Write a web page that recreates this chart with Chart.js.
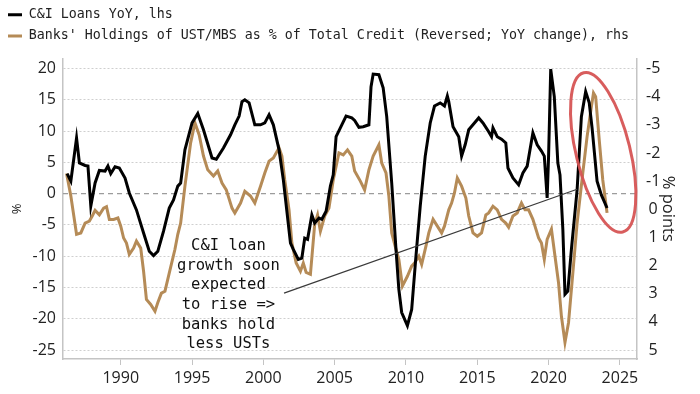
<!DOCTYPE html>
<html>
<head>
<meta charset="utf-8">
<script src="https://cdn.jsdelivr.net/npm/chart.js@4.4.1/dist/chart.umd.min.js"></script>
<style>
  html, body { margin: 0; padding: 0; background: #fff; }
  #wrap { width: 700px; height: 394px; }
</style>
</head>
<body>
<div id="wrap"><canvas id="chart"></canvas></div>
<script>
// C&I loans YoY (%, lhs)
const loanYears = [1986.24, 1986.5, 1986.9, 1987.1, 1987.5, 1987.7, 1987.9, 1988.2, 1988.5, 1988.9, 1989.1, 1989.3, 1989.6, 1989.9,
  1990.3, 1990.6, 1991.1, 1991.6, 1992.0, 1992.3, 1992.6, 1993.0, 1993.4, 1993.7, 1994.0, 1994.2, 1994.5, 1995.0, 1995.4, 1995.8,
  1996.4, 1996.7, 1997.2, 1997.7, 1998.0, 1998.3, 1998.5, 1998.7, 1999.0, 1999.4, 1999.8, 2000.1, 2000.4, 2000.7, 2001.1, 2001.4,
  2001.9, 2002.1, 2002.45, 2002.7, 2002.9, 2003.1, 2003.4, 2003.6, 2003.9, 2004.1, 2004.4, 2004.7, 2004.9, 2005.1, 2005.5, 2005.8,
  2006.2, 2006.4, 2006.7, 2007.0, 2007.4, 2007.55, 2007.7, 2008.1, 2008.4, 2008.65, 2009.0, 2009.3, 2009.5, 2009.7, 2010.1, 2010.4,
  2010.7, 2011.0, 2011.35, 2011.7, 2012.0, 2012.4, 2012.7, 2012.9, 2013.0, 2013.3, 2013.7, 2013.9, 2014.15, 2014.4, 2014.8, 2015.1,
  2015.4, 2015.8, 2016.0, 2016.1, 2016.4, 2016.7, 2017.0, 2017.15, 2017.5, 2017.9, 2018.2, 2018.5, 2018.9, 2019.2, 2019.5, 2019.7,
  2019.9, 2020.0, 2020.15, 2020.4, 2020.65, 2020.8, 2021.0, 2021.15, 2021.35, 2021.6, 2022.0, 2022.3, 2022.6, 2022.85, 2023.05,
  2023.4, 2023.7, 2024.1];
const loanValues = [3.2, 2.0, 8.9, 4.9, 4.5, 4.4, -2.0, 1.7, 3.7, 3.6, 4.4, 3.2, 4.3, 4.1,
  2.5, 0.1, -2.6, -6.3, -9.2, -9.9, -9.2, -6.0, -2.3, -1.0, 1.2, 1.7, 7.0, 11.3, 12.8, 10.2,
  5.7, 5.5, 7.3, 9.4, 11.0, 12.4, 14.7, 15.0, 14.5, 11.0, 11.0, 11.3, 12.6, 11.0, 7.0, 2.2,
  -7.9, -8.9, -10.5, -10.3, -7.1, -7.3, -3.4, -4.7, -3.9, -4.1, -2.8, 1.2, 3.0, 9.1, 11.0, 12.4,
  12.1, 11.7, 10.6, 10.7, 11.0, 17.1, 19.1, 19.0, 16.9, 12.3, 1.7, -8.9, -15.3, -19.0, -21.1, -18.5,
  -10.0, -2.0, 6.0, 11.3, 14.0, 14.5, 14.0, 15.6, 14.7, 10.7, 9.1, 6.0, 7.8, 10.2, 11.3, 12.1,
  11.3, 9.9, 9.1, 10.5, 9.1, 8.7, 8.1, 4.1, 2.5, 1.4, 3.3, 4.4, 9.7, 7.8, 6.8, 6.0,
  -0.7, 6.0, 19.9, 15.5, 4.9, 3.0, -5.7, -16.1, -15.6, -8.9, 0.6, 12.3, 16.3, 14.5, 10.5,
  2.0, -0.2, -2.3];

// Banks' UST/MBS holdings as % of total credit, YoY change, reversed (pp, rhs)
const holdYears = [1986.2, 1986.5, 1986.9, 1987.2, 1987.5, 1987.8, 1988.0, 1988.2, 1988.5, 1988.8, 1989.0, 1989.2, 1989.5, 1989.8,
  1990.0, 1990.2, 1990.4, 1990.6, 1990.9, 1991.1, 1991.4, 1991.6, 1991.8, 1992.1, 1992.4, 1992.6, 1992.85, 1993.1, 1993.4, 1993.8,
  1994.0, 1994.2, 1994.5, 1994.9, 1995.2, 1995.5, 1995.8, 1996.1, 1996.5, 1996.8, 1997.1, 1997.4, 1997.8, 1998.0, 1998.4, 1998.7,
  1999.1, 1999.4, 1999.8, 2000.1, 2000.4, 2000.7, 2001.1, 2001.3, 2001.5, 2001.8, 2002.0, 2002.3, 2002.6, 2002.8, 2003.0, 2003.3,
  2003.6, 2003.8, 2004.0, 2004.3, 2004.6, 2004.9, 2005.3, 2005.6, 2005.9, 2006.2, 2006.4, 2006.8, 2007.1, 2007.4, 2007.7, 2008.1,
  2008.3, 2008.6, 2008.8, 2009.0, 2009.3, 2009.5, 2009.75, 2010.1, 2010.4, 2010.6, 2010.9, 2011.1, 2011.4, 2011.6, 2011.9, 2012.2,
  2012.5, 2012.7, 2013.0, 2013.2, 2013.4, 2013.6, 2013.9, 2014.2, 2014.4, 2014.7, 2015.0, 2015.3, 2015.6, 2015.8, 2016.1, 2016.4,
  2016.7, 2017.0, 2017.2, 2017.5, 2017.8, 2018.1, 2018.35, 2018.6, 2018.9, 2019.3, 2019.5, 2019.7, 2019.9, 2020.2, 2020.45, 2020.7,
  2020.9, 2021.15, 2021.4, 2021.7, 2022.0, 2022.4, 2022.7, 2023.0, 2023.15, 2023.3, 2023.55, 2023.8, 2024.1];
const holdValues = [-1.27, -0.47, 0.89, 0.84, 0.49, 0.42, 0.24, 0.04, 0.20, -0.04, -0.09, 0.36, 0.36, 0.31,
  0.60, 1.02, 1.20, 1.60, 1.38, 1.13, 1.38, 2.20, 3.20, 3.38, 3.62, 3.31, 2.98, 2.91, 2.27, 1.42,
  0.89, 0.49, -0.82, -2.36, -3.07, -2.64, -1.89, -1.40, -1.18, -1.36, -0.93, -0.69, -0.04, 0.13, -0.22, -0.64,
  -0.47, -0.22, -0.82, -1.29, -1.71, -1.82, -2.18, -1.89, -1.04, 0.02, 1.20, 1.91, 2.20, 1.91, 2.24, 2.31,
  0.53, 0.20, 0.78, 0.24, -0.04, -1.04, -2.00, -1.93, -2.11, -1.89, -1.36, -1.00, -0.69, -1.40, -1.89, -2.29,
  -1.64, -1.29, -0.47, 0.84, 1.42, 1.78, 2.73, 2.38, 2.02, 1.91, 1.67, 1.96, 1.31, 0.84, 0.36, 0.60,
  0.84, 0.60, 0.02, -0.22, -0.58, -1.11, -0.82, -0.40, 0.24, 0.84, 0.96, 0.84, 0.20, 0.13, -0.11, 0.02,
  0.36, 0.49, 0.64, 0.24, 0.13, -0.22, 0.02, 0.02, 0.36, 1.02, 1.20, 1.78, 1.07, 0.71, 1.67, 2.62,
  3.80, 4.73, 4.02, 2.27, 0.49, -1.29, -2.58, -3.64, -4.13, -4.00, -2.47, -1.04, 0.13];

const yearTicks = [1990, 1995, 2000, 2005, 2010, 2015, 2020, 2025];
const lhsTicks = [-25, -20, -15, -10, -5, 0, 5, 10, 15, 20];
const rhsTicks = [-5, -4, -3, -2, -1, 0, 1, 2, 3, 4, 5];

const calloutLines = ['C&I loan', 'growth soon', 'expected', 'to rise =>', 'banks hold', 'less USTs'];
const calloutAt = [1997.55, -8.4];          // year, lhs value of first line
const pointerFrom = [2001.45, -15.9];
const pointerTo = [2022.0, 0.7];
const circleAt = [2023.83, 6.6];

const toPoints = (xs, ys) => xs.map((x, i) => ({x: x, y: ys[i]}));

// zero line, pointer line, callout text and the red circle
const extras = {
  id: 'extras',
  afterInit(chart) {
    // a little room between legend and plot
    const lg = chart.legend;
    if (lg) {
      const fit = lg.fit.bind(lg);
      lg.fit = function () { fit(); this.height += 6; };
    }
  },
  beforeDatasetsDraw(chart) {
    const {ctx, chartArea, scales} = chart;
    const y0 = scales.y.getPixelForValue(0);
    ctx.save();
    ctx.strokeStyle = '#9c9c9c';
    ctx.lineWidth = 1.2;
    ctx.setLineDash([5, 4]);
    ctx.beginPath();
    ctx.moveTo(chartArea.left, y0);
    ctx.lineTo(chartArea.right, y0);
    ctx.stroke();
    ctx.restore();
  },
  afterDatasetsDraw(chart) {
    const {ctx, scales: {x, y}} = chart;
    ctx.save();
    ctx.strokeStyle = '#3a3a3a';
    ctx.lineWidth = 1.2;
    ctx.beginPath();
    ctx.moveTo(x.getPixelForValue(pointerFrom[0]), y.getPixelForValue(pointerFrom[1]));
    ctx.lineTo(x.getPixelForValue(pointerTo[0]), y.getPixelForValue(pointerTo[1]));
    ctx.stroke();

    ctx.fillStyle = '#111';
    ctx.font = '15.5px "DejaVu Sans Mono"';
    ctx.textAlign = 'center';
    ctx.textBaseline = 'middle';
    const cx = x.getPixelForValue(calloutAt[0]);
    let cy = y.getPixelForValue(calloutAt[1]);
    calloutLines.forEach(line => {
      ctx.fillText(line, cx, cy);
      cy += 19.6;
    });

    ctx.strokeStyle = 'rgba(214, 84, 84, 0.95)';
    ctx.lineWidth = 3;
    ctx.beginPath();
    ctx.ellipse(x.getPixelForValue(circleAt[0]), y.getPixelForValue(circleAt[1]), 27, 82, -0.24, 0, Math.PI * 2);
    ctx.stroke();
    ctx.restore();
  }
};

const tickFont = {family: 'Open Sans', size: 16};

new Chart(document.getElementById('chart'), {
  type: 'line',
  data: {
    datasets: [{
      label: 'C&I Loans YoY, lhs',
      data: toPoints(loanYears, loanValues),
      borderColor: '#000',
      backgroundColor: '#000',
      borderWidth: 3,
      pointRadius: 0,
      tension: 0,
      yAxisID: 'y'
    }, {
      label: "Banks' Holdings of UST/MBS as % of Total Credit (Reversed; YoY change), rhs",
      data: toPoints(holdYears, holdValues),
      borderColor: '#b58b57',
      backgroundColor: '#b58b57',
      borderWidth: 3,
      pointRadius: 0,
      tension: 0,
      yAxisID: 'y2'
    }]
  },
  options: {
    responsive: true,
    maintainAspectRatio: false,
    animation: false,
    layout: {padding: 0},
    plugins: {
      legend: {
        position: 'top',
        align: 'start',
        labels: {
          usePointStyle: true,
          pointStyle: 'line',
          pointStyleWidth: 14,
          boxHeight: 13,
          padding: 8,
          color: '#222',
          font: {family: 'DejaVu Sans Mono', size: 13.3}
        }
      },
      tooltip: {enabled: false}
    },
    scales: {
      x: {
        type: 'linear',
        min: 1985.95,
        max: 2026.2,
        afterBuildTicks: s => { s.ticks = yearTicks.map(v => ({value: v})); },
        afterFit: s => { s.height = 35; },
        grid: {drawOnChartArea: false, drawTicks: true, tickLength: 6, color: '#c4c4c4'},
        border: {color: '#c4c4c4', width: 1.5},
        ticks: {font: tickFont, color: '#222', padding: 4, maxRotation: 0, autoSkip: false, callback: v => String(v)}
      },
      y: {
        position: 'left',
        min: -26.43,
        max: 21.58,
        afterBuildTicks: s => { s.ticks = lhsTicks.map(v => ({value: v})); },
        afterFit: s => { s.width = 63; },
        grid: {drawTicks: false, color: c => (c.tick && c.tick.value === 0) ? 'rgba(0,0,0,0)' : '#cfcfcf'},
        border: {color: '#c4c4c4', width: 1.5, dash: [2, 2]},
        ticks: {font: tickFont, color: '#222', padding: 7},
        title: {display: true, text: '%', color: '#222', font: {family: 'Open Sans', size: 13}, padding: {top: 9, bottom: 0}}
      },
      y2: {
        position: 'right',
        reverse: true,
        min: -5.351,
        max: 5.318,
        afterBuildTicks: s => { s.ticks = rhsTicks.map(v => ({value: v})); },
        afterFit: s => { s.width = 63; },
        grid: {display: false, drawTicks: false},
        border: {color: '#c4c4c4', width: 1.5},
        ticks: {font: tickFont, color: '#222', padding: 9, crossAlign: 'center'},
        title: {display: true, text: '% points', color: '#222', font: {family: 'Open Sans', size: 16.5}, padding: {top: 22, bottom: 0}}
      }
    }
  },
  plugins: [extras]
});
</script>
</body>
</html>
